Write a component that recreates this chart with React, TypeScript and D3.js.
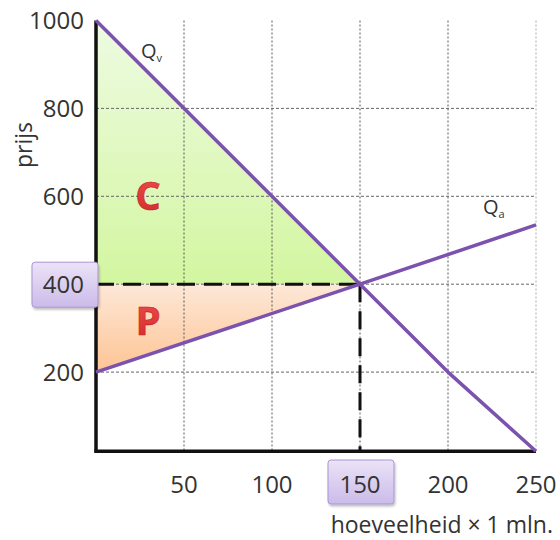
import React from 'react';
import * as d3 from 'd3';

// price axis ticks and quantity axis ticks
const priceTicks = [200, 400, 600, 800, 1000];
const qtyTicks = [50, 100, 150, 200, 250];
const gridPrices = [200, 400, 600, 800];
const gridQtys = [50, 100, 150, 200, 250];
const axisPrice = 20; // horizontal axis sits a little above price 0

// demand (Qv) and supply (Qa) lines, as [quantity, price]
const demand: [number, number][] = [
  [0, 1000],
  [150, 400],
  [200, 200],
  [250, 20],
];
const supply: [number, number][] = [
  [0, 200],
  [150, 400],
  [250, 535],
];
const equilibrium = { q: 150, p: 400 };

// consumer surplus (C) and producer surplus (P)
const consumerArea: [number, number][] = [
  [0, 1000],
  [150, 400],
  [0, 400],
];
const producerArea: [number, number][] = [
  [0, 400],
  [150, 400],
  [0, 200],
];

const App = () => {
  const width = 560,
    height = 540;
  const x = d3.scaleLinear().domain([0, 250]).range([96, 536]);
  const y = d3.scaleLinear().domain([0, 1000]).range([460, 20.5]);

  const line = d3
    .line<[number, number]>()
    .x((d) => x(d[0]))
    .y((d) => y(d[1]));
  const area = (pts: [number, number][]) => line(pts) + 'Z';

  const font = "'Open Sans', 'Noto Sans', sans-serif";
  const textColor = '#333';
  const purple = '#7b52ad';
  const y0 = y(axisPrice);

  return (
    <svg
      width={width}
      height={height}
      style={{ position: 'absolute', left: 0, top: 0, background: '#fff' }}
      fontFamily={font}
    >
      <defs>
        <linearGradient id="greenGrad" x1="0" y1="0" x2="0" y2="1">
          <stop offset="0%" stopColor="#eefbe2" />
          <stop offset="100%" stopColor="#d3f6a0" />
        </linearGradient>
        <linearGradient id="orangeGrad" x1="0" y1="0" x2="0" y2="1">
          <stop offset="0%" stopColor="#fde8d8" />
          <stop offset="100%" stopColor="#fdc494" />
        </linearGradient>
        <linearGradient id="boxGrad" x1="0" y1="0" x2="0" y2="1">
          <stop offset="0%" stopColor="#ebe3f7" />
          <stop offset="100%" stopColor="#cbbbe9" />
        </linearGradient>
        <linearGradient id="letterGrad" x1="0" y1="0" x2="0" y2="1">
          <stop offset="0%" stopColor="#f05050" />
          <stop offset="100%" stopColor="#d02828" />
        </linearGradient>
        <filter id="shadow" x="-20%" y="-20%" width="150%" height="150%">
          <feDropShadow dx="1" dy="2" stdDeviation="1.2" floodColor="#000" floodOpacity="0.25" />
        </filter>
      </defs>

      {/* surplus areas */}
      <path d={area(consumerArea)} fill="url(#greenGrad)" />
      <path d={area(producerArea)} fill="url(#orangeGrad)" />

      {/* grid */}
      {gridQtys.map((q) => (
        <line
          key={'gx' + q}
          x1={x(q)}
          x2={x(q)}
          y1={y(1000)}
          y2={y0}
          stroke={q === 250 ? '#aaa' : '#555'}
          strokeWidth={1}
          strokeDasharray="2,2"
        />
      ))}
      {gridPrices.map((p) => (
        <line
          key={'gy' + p}
          x1={x(0)}
          x2={x(250)}
          y1={y(p)}
          y2={y(p)}
          stroke="#666"
          strokeWidth={1}
          strokeDasharray="3,2"
        />
      ))}

      {/* equilibrium dashed lines */}
      <line
        x1={x(0)}
        x2={x(equilibrium.q)}
        y1={y(equilibrium.p)}
        y2={y(equilibrium.p)}
        stroke="#111"
        strokeWidth={3}
        strokeDasharray="18,9"
      />
      <line
        x1={x(equilibrium.q)}
        x2={x(equilibrium.q)}
        y1={y(equilibrium.p)}
        y2={y0}
        stroke="#111"
        strokeWidth={3}
        strokeDasharray="18,9"
      />

      {/* axes */}
      <line x1={x(0)} x2={x(0)} y1={y(1000)} y2={y0 + 1.5} stroke="#111" strokeWidth={3.5} />
      <line x1={x(0) - 1.5} x2={x(250)} y1={y0} y2={y0} stroke="#111" strokeWidth={3.5} />

      {/* supply and demand */}
      <path d={line(demand) || ''} fill="none" stroke={purple} strokeWidth={3.5} strokeLinejoin="round" />
      <path d={line(supply) || ''} fill="none" stroke={purple} strokeWidth={3.5} strokeLinejoin="round" />

      {/* highlight boxes */}
      <rect x={32} y={y(equilibrium.p) - 22} width={66} height={45} rx={3} fill="url(#boxGrad)" stroke="#a996d2" strokeWidth={1} filter="url(#shadow)" />
      <rect x={x(equilibrium.q) - 32} y={460} width={66} height={44} rx={3} fill="url(#boxGrad)" stroke="#a996d2" strokeWidth={1} filter="url(#shadow)" />

      {/* y tick labels */}
      {priceTicks.map((p) => (
        <text key={'ty' + p} x={84} y={y(p)} dy="0.36em" textAnchor="end" fontSize={24} fill={textColor}>
          {p}
        </text>
      ))}
      {/* x tick labels */}
      {qtyTicks.map((q) => (
        <text key={'tx' + q} x={x(q)} y={493} textAnchor="middle" fontSize={24} fill={textColor}>
          {q}
        </text>
      ))}

      {/* axis titles */}
      <text transform="translate(32,145) rotate(-90)" textAnchor="middle" fontSize={23} fill={textColor}>
        prijs
      </text>
      <text x={553} y={533} textAnchor="end" fontSize={23} fill={textColor}>
        hoeveelheid × 1 mln.
      </text>

      {/* line labels */}
      <text x={141} y={58} fontSize={20} fill={textColor}>
        Q<tspan fontSize={11} dy={4}>v</tspan>
      </text>
      <text x={483} y={214} fontSize={20} fill={textColor}>
        Q<tspan fontSize={11} dy={4}>a</tspan>
      </text>

      {/* surplus letters */}
      <text x={148} y={210} textAnchor="middle" fontSize={40} fontWeight="bold" fill="url(#letterGrad)" stroke="#c02020" strokeWidth={0.6}>
        C
      </text>
      <text x={148} y={335} textAnchor="middle" fontSize={40} fontWeight="bold" fill="url(#letterGrad)" stroke="#c02020" strokeWidth={0.6}>
        P
      </text>
    </svg>
  );
};

export default App;
